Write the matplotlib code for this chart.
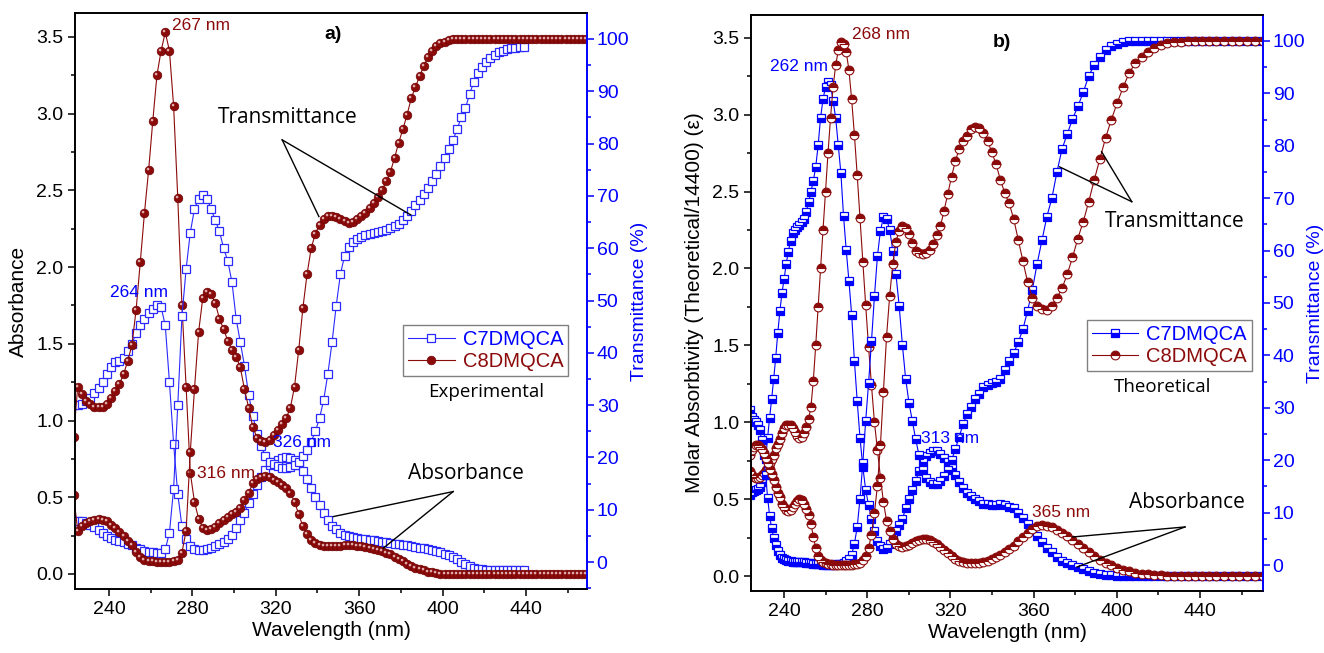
import numpy as np
import matplotlib.pyplot as plt
from matplotlib.path import Path
from matplotlib.ticker import MultipleLocator

plt.rcParams['font.family'] = ['Liberation Sans', 'DejaVu Sans']

# ---- experimental spectra (every 2 nm) ----
wl_exp = np.arange(223, 472, 2)

c8_exp_abs = [0.89, 1.22, 1.17, 1.13, 1.11, 1.09, 1.085, 1.09, 1.11, 1.15,
              1.19, 1.24, 1.30, 1.39, 1.49, 1.72, 2.03, 2.35, 2.63, 2.95,
              3.25, 3.41, 3.53, 3.41, 3.05, 2.45, 1.75, 1.22, 0.66, 0.47,
              0.36, 0.30, 0.285, 0.29, 0.305, 0.33, 0.35, 0.37, 0.39, 0.405,
              0.43, 0.48, 0.53, 0.59, 0.62, 0.635, 0.64, 0.632, 0.615, 0.60,
              0.58, 0.56, 0.53, 0.47, 0.39, 0.31, 0.26, 0.22, 0.20, 0.19,
              0.184, 0.18, 0.18, 0.181, 0.183, 0.186, 0.188, 0.187, 0.184, 0.18,
              0.176, 0.17, 0.163, 0.157, 0.148, 0.138, 0.127, 0.112, 0.096, 0.082,
              0.068, 0.052, 0.042, 0.032, 0.023, 0.015, 0.010, 0.006, 0.003, 0.002,
              0.001, 0, 0, 0, 0, 0, 0, 0, 0, 0,
              0, 0, 0, 0, 0, 0, 0, 0, 0, 0,
              0, 0, 0, 0, 0, 0, 0, 0, 0, 0,
              0, 0, 0, 0, 0]

c8_exp_trans = [12.9, 6.0, 6.8, 7.4, 7.8, 8.1, 8.2, 8.1, 7.8, 7.1,
                6.5, 5.8, 5.0, 4.1, 3.2, 1.9, 0.9, 0.45, 0.2, 0.1,
                0.05, 0, 0, 0, 0.1, 0.35, 1.8, 6.0, 21, 33,
                44, 50.5, 51.7, 51.2, 49.5, 46.5, 44.5, 42.3, 40.5, 39.2,
                37.2, 33, 29.5, 25.8, 23.8, 23.1, 22.9, 23.3, 24.3, 25.3,
                26.3, 27.5, 29.5, 33.5, 40.5, 48.5, 55, 60, 62.8, 64.5,
                65.5, 66.1, 66.1, 65.9, 65.6, 65.2, 64.9, 65.0, 65.5, 66.1,
                66.7, 67.6, 68.7, 69.7, 71.1, 72.8, 74.6, 77.3, 80.2, 82.8,
                85.5, 88.7, 90.8, 92.9, 94.8, 96.6, 97.7, 98.6, 99.3, 99.5,
                99.8, 100, 100, 100, 100, 100, 100, 100, 100, 100,
                100, 100, 100, 100, 100, 100, 100, 100, 100, 100,
                100, 100, 100, 100, 100, 100, 100, 100, 100, 100,
                100, 100, 100, 100, 100]

# C7 run ends at 439 nm
c7_exp_abs = [1.10, 1.10, 1.11, 1.13, 1.15, 1.18, 1.21, 1.25, 1.30, 1.35,
              1.38, 1.39, 1.41, 1.45, 1.50, 1.57, 1.62, 1.66, 1.70, 1.73,
              1.75, 1.74, 1.62, 1.25, 0.85, 0.52, 0.31, 0.23, 0.185, 0.165,
              0.157, 0.155, 0.16, 0.17, 0.18, 0.195, 0.21, 0.23, 0.255, 0.30,
              0.35, 0.40, 0.46, 0.52, 0.58, 0.63, 0.68, 0.71, 0.73, 0.745,
              0.755, 0.76, 0.755, 0.74, 0.71, 0.67, 0.62, 0.56, 0.50, 0.45,
              0.40, 0.35, 0.315, 0.29, 0.27, 0.255, 0.245, 0.238, 0.233, 0.23,
              0.227, 0.223, 0.22, 0.215, 0.21, 0.206, 0.202, 0.198, 0.195, 0.19,
              0.186, 0.182, 0.178, 0.172, 0.166, 0.16, 0.154, 0.147, 0.14, 0.132,
              0.122, 0.11, 0.095, 0.08, 0.065, 0.052, 0.042, 0.035, 0.03, 0.028,
              0.026, 0.025, 0.025, 0.025, 0.025, 0.025, 0.025, 0.025, 0.025]

c7_exp_trans = [7.9, 7.9, 7.8, 7.4, 7.1, 6.6, 6.2, 5.6, 5.0, 4.5,
                4.2, 4.1, 3.9, 3.5, 3.2, 2.7, 2.4, 2.2, 2.0, 1.9,
                1.8, 1.8, 2.4, 5.6, 14, 30, 47, 56, 63, 67.5,
                69.5, 70.2, 69.5, 67.5, 65.3, 63.2, 60, 57.5, 53.5, 46.5,
                42, 37.5, 32, 28, 24.5, 22.2, 20.2, 19.2, 18.7, 18.3,
                18.0, 17.9, 18.1, 18.5, 19.2, 20.2, 21.5, 23, 25, 27.5,
                31, 36, 42, 49, 55, 58.5, 60.2, 61.2, 61.8, 62.2,
                62.5, 62.7, 62.9, 63.1, 63.3, 63.5, 63.8, 64.2, 64.7, 65.3,
                66.1, 67.2, 68.3, 69.2, 70.3, 71.6, 72.8, 74.2, 75.8, 77.3,
                79, 80.6, 82.8, 85, 86.8, 89.5, 91.8, 93.5, 94.6, 95.6,
                96.3, 97, 97.5, 97.8, 98, 98.2, 98.3, 98.4, 98.5]

# ---- theoretical spectra (even energy grid, eV) ----
energy_th = 5.54 - 0.022 * np.arange(133)
wl_th = 1239.84 / energy_th

c7_th_abs = [0.53, 0.545, 0.555, 0.56, 0.565, 0.58, 0.61, 0.66, 0.76, 0.90,
             1.03, 1.15, 1.28, 1.42, 1.58, 1.72, 1.84, 1.93, 2.03, 2.11,
             2.18, 2.23, 2.25, 2.27, 2.28, 2.30, 2.32, 2.37, 2.43, 2.50,
             2.57, 2.66, 2.80, 2.98, 3.10, 3.18, 3.21, 3.19, 3.09, 2.98,
             2.80, 2.62, 2.34, 2.12, 1.92, 1.70, 1.40, 1.14, 0.90, 0.71,
             0.56, 0.46, 0.37, 0.29, 0.23, 0.195, 0.178, 0.18, 0.205, 0.25,
             0.29, 0.33, 0.37, 0.44, 0.50, 0.56, 0.62, 0.68, 0.74, 0.78,
             0.80, 0.81, 0.81, 0.795, 0.77, 0.74, 0.70, 0.655, 0.61, 0.57,
             0.54, 0.52, 0.50, 0.485, 0.47, 0.465, 0.46, 0.46, 0.465, 0.46,
             0.45, 0.44, 0.41, 0.38, 0.34, 0.30, 0.26, 0.22, 0.18, 0.155,
             0.125, 0.10, 0.085, 0.07, 0.058, 0.045, 0.03, 0.02, 0.013, 0.008,
             0.004, 0.002, 0, 0, 0, 0, 0, 0, 0, 0,
             0, 0, 0, 0, 0, 0, 0, 0, 0, 0,
             0, 0, 0]

c7_th_trans = [29.5, 28.3, 27.6, 27.2, 26.8, 25.7, 23.8, 21.0, 17.2, 12.8,
               9.4, 7.0, 5.2, 3.8, 2.6, 1.9, 1.4, 1.2, 0.9, 0.8,
               0.7, 0.6, 0.56, 0.54, 0.52, 0.5, 0.48, 0.43, 0.37, 0.32,
               0.27, 0.22, 0.16, 0.1, 0.08, 0.07, 0.06, 0.06, 0.08, 0.1,
               0.16, 0.24, 0.46, 0.76, 1.2, 2.0, 4.0, 7.2, 12.6, 19.5,
               27.5, 34.7, 42.7, 51.3, 58.9, 63.8, 66.4, 66.1, 64.0, 60.0,
               55.5, 49.5, 42.0, 35.5, 31.0, 27.5, 24.0, 20.9, 18.2, 16.6,
               15.8, 15.5, 15.5, 16.0, 17.0, 18.2, 20.0, 22.1, 24.5, 26.9,
               28.8, 30.2, 31.6, 32.7, 33.9, 34.3, 34.7, 34.9, 35.5, 37.2,
               39.0, 40.5, 42.5, 45.0, 48.5, 52.5, 57.5, 62.0, 66.5, 70.0,
               75.0, 79.4, 82.2, 85.1, 87.5, 90.2, 93.3, 95.5, 97.0, 98.2,
               99.1, 99.5, 99.8, 100, 100, 100, 100, 100, 100, 100,
               100, 100, 100, 100, 100, 100, 100, 100, 100, 100,
               100, 100, 100]

c8_th_abs = [0.68, 0.66, 0.645, 0.64, 0.64, 0.645, 0.655, 0.67, 0.69, 0.71,
             0.735, 0.76, 0.79, 0.83, 0.86, 0.89, 0.93, 0.96, 0.98, 0.985,
             0.98, 0.96, 0.935, 0.91, 0.90, 0.905, 0.93, 0.97, 1.02, 1.10,
             1.27, 1.50, 1.75, 2.00, 2.25, 2.50, 2.75, 2.98, 3.18, 3.32,
             3.42, 3.47, 3.46, 3.41, 3.29, 3.10, 2.87, 2.61, 2.33, 2.04,
             1.76, 1.49, 1.24, 1.00, 0.82, 0.64, 0.48, 0.36, 0.29, 0.24,
             0.21, 0.195, 0.19, 0.192, 0.20, 0.215, 0.228, 0.236, 0.24, 0.238,
             0.232, 0.222, 0.208, 0.19, 0.17, 0.15, 0.13, 0.113, 0.10, 0.092,
             0.087, 0.085, 0.085, 0.087, 0.092, 0.10, 0.11, 0.122, 0.138, 0.155,
             0.175, 0.198, 0.225, 0.252, 0.28, 0.305, 0.322, 0.33, 0.328, 0.318,
             0.30, 0.28, 0.258, 0.232, 0.205, 0.18, 0.155, 0.13, 0.107, 0.087,
             0.07, 0.055, 0.042, 0.031, 0.022, 0.015, 0.01, 0.007, 0.004, 0.002,
             0.001, 0, 0, 0, 0, 0, 0, 0, 0, 0,
             0, 0, 0]

c8_th_trans = [21.0, 21.9, 22.6, 22.9, 22.9, 22.6, 22.1, 21.4, 20.4, 19.5,
               18.4, 17.4, 16.2, 14.8, 13.8, 12.9, 11.7, 11.0, 10.5, 10.4,
               10.5, 11.0, 11.6, 12.3, 12.6, 12.4, 11.7, 10.7, 9.5, 7.9,
               5.4, 3.2, 1.8, 1.0, 0.56, 0.32, 0.18, 0.1, 0.07, 0.05,
               0.04, 0.03, 0.03, 0.04, 0.05, 0.08, 0.13, 0.25, 0.47, 0.9,
               1.7, 3.2, 5.8, 10.0, 15.1, 22.9, 33.1, 43.6, 51.3, 57.5,
               61.7, 63.8, 64.6, 64.3, 63.1, 61.5, 60.0, 59.6, 59.4, 59.5,
               60.2, 61.3, 63.0, 64.6, 67.6, 70.8, 74.1, 77.1, 79.4, 80.9,
               81.8, 83.2, 83.6, 83.4, 82.5, 81.0, 78.8, 76.5, 73.5, 71.0,
               69.0, 66.0, 62.0, 58.0, 54.0, 51.0, 49.5, 48.8, 48.7, 49.5,
               51.0, 52.8, 55.5, 58.7, 62.3, 65.5, 69.3, 73.5, 77.5, 81.5,
               85.0, 88.2, 91.2, 93.9, 95.8, 97.0, 97.9, 98.7, 99.2, 99.6,
               99.8, 99.9, 100, 100, 100, 100, 100, 100, 100, 100,
               100, 100, 100]

series_names = ['C7DMQCA', 'C8DMQCA']

BLUE = '#0000ff'
RED = '#8b0a0a'
ANNOT_FONT = 'Open Sans'

# small light disc offset up-left, used as a highlight on the "sphere" markers
_c = Path.circle((-0.33, 0.33), 0.3)
shine = Path(np.vstack([_c.vertices, [[-1, -1], [1, 1]]]),
             np.concatenate([_c.codes, [Path.MOVETO, Path.MOVETO]]))

fig = plt.figure(figsize=(13.24, 6.53), dpi=100)
axA = fig.add_axes([75 / 1324, 1 - 589 / 653, 512 / 1324, 576 / 653])
axB = fig.add_axes([751 / 1324, 1 - 591 / 653, 512 / 1324, 576 / 653])


def frame(ax, xlim, ylim, ylim2, ylabel):
    ax2 = ax.twinx()
    ax.set_xlim(*xlim)
    ax.set_ylim(*ylim)
    ax2.set_ylim(*ylim2)
    ax.xaxis.set_major_locator(MultipleLocator(40))
    ax.xaxis.set_minor_locator(MultipleLocator(20))
    ax.yaxis.set_major_locator(MultipleLocator(0.5))
    ax.yaxis.set_minor_locator(MultipleLocator(0.25))
    ax2.yaxis.set_major_locator(MultipleLocator(10))
    ax2.yaxis.set_minor_locator(MultipleLocator(5))
    ax.yaxis.set_major_formatter(plt.FormatStrFormatter('%.1f'))
    for a in (ax, ax2):
        a.tick_params(which='major', direction='out', length=5, width=1.1, labelsize=14)
        a.tick_params(which='minor', direction='out', length=3, width=1.1)
        for s in a.spines.values():
            s.set_linewidth(1.2)
    ax.tick_params(axis='x', pad=4)
    ax.spines['right'].set_visible(False)
    ax2.spines['right'].set_color(BLUE)
    ax2.spines['right'].set_linewidth(1.4)
    ax2.tick_params(axis='y', which='both', colors=BLUE, pad=2)
    ax.set_xlabel('Wavelength (nm)', fontsize=15, labelpad=2)
    ax.set_ylabel(ylabel, fontsize=15, labelpad=6)
    ax2.set_ylabel('Transmittance (%)', fontsize=14, color=BLUE)
    ax2.yaxis.set_label_coords(1.086, 0.5)
    return ax2


axA2 = frame(axA, (223.7, 469.3), (-0.098, 3.656), (-5.16, 104.97), 'Absorbance')
axB2 = frame(axB, (224.1, 470.3), (-0.0975, 3.648), (-4.96, 104.96),
             'Molar Absorbtivity (Theoretical/14400) (\u03b5)')

# ---- panel a: experimental ----
n7 = len(c7_exp_abs)
sq = dict(marker='s', ms=6.0, mfc='white', mec='#2a2aff', mew=0.9, lw=0.8, color='#2a2aff')
sph = dict(marker='o', ms=6.3, mfc=RED, mec='#6a0000', mew=0.4, lw=0.8, color=RED)
hA7, = axA.plot(wl_exp[:n7], c7_exp_abs, **sq)
hA8, = axA.plot(wl_exp, c8_exp_abs, **sph)
axA.plot(wl_exp, c8_exp_abs, ls='none', marker=shine, ms=6.3, mfc='#f0c8c8', mec='none', alpha=0.85)
axA2.plot(wl_exp[:n7], c7_exp_trans, **sq)
axA2.plot(wl_exp, c8_exp_trans, **sph)
axA2.plot(wl_exp, c8_exp_trans, ls='none', marker=shine, ms=6.3, mfc='#f0c8c8', mec='none', alpha=0.85)

# ---- panel b: theoretical ----
hsq = dict(marker='s', ms=5.6, fillstyle='bottom', mfc=BLUE, mfcalt='white', mec=BLUE,
           mew=0.9, lw=0.8, color=BLUE)
hci = dict(marker='o', ms=6.3, fillstyle='top', mfc=RED, mfcalt='white', mec=RED,
           mew=0.8, lw=0.8, color=RED)
hB7, = axB.plot(wl_th, c7_th_abs, **hsq)
hB8, = axB.plot(wl_th, c8_th_abs, **hci)
axB2.plot(wl_th, c7_th_trans, **hsq)
axB2.plot(wl_th, c8_th_trans, **hci)

# ---- legends ----
for ax2, hs, anchor in ((axA2, (hA7, hA8), (0.641, 0.458)), (axB2, (hB7, hB8), (0.656, 0.470))):
    leg = ax2.legend(hs, series_names, loc='upper left', bbox_to_anchor=anchor,
                     borderaxespad=0, fancybox=False, edgecolor='#808080', framealpha=1,
                     fontsize=14.5, handlelength=2.3, handletextpad=0.4, borderpad=0.25,
                     labelspacing=0.15, numpoints=1)
    leg.get_frame().set_linewidth(1.0)
    for t, c in zip(leg.get_texts(), (BLUE, RED)):
        t.set_color(c)


# ---- annotations (drawn on the twin axes so they sit on top) ----
def note(ax, ax2, x, y, s, **kw):
    ax2.text(x, y, s, transform=ax.transData, **kw)


def leader(ax, ax2, apex, ends):
    for e in ends:
        ax2.plot([apex[0], e[0]], [apex[1], e[1]], color='black', lw=1.0,
                 transform=ax.transData)


note(axA, axA2, 270.2, 3.572, '267 nm', color=RED, fontsize=12.5, ha='left', va='center')
note(axA, axA2, 254.6, 1.832, '264 nm', color=BLUE, fontsize=12.5, ha='center', va='center')
note(axA, axA2, 296.4, 0.658, '316 nm', color=RED, fontsize=12.5, ha='center', va='center')
note(axA, axA2, 332.8, 0.854, '326 nm', color=BLUE, fontsize=12.5, ha='center', va='center')
note(axA, axA2, 347.4, 3.514, 'a)', fontsize=14, fontweight='bold', ha='center', va='center')
note(axA, axA2, 325.6, 2.973, 'Transmittance', family=ANNOT_FONT, fontsize=15, ha='center', va='center')
leader(axA, axA2, (323.1, 2.829), [(340.7, 2.329), (384.8, 2.34)])
note(axA, axA2, 411.2, 0.652, 'Absorbance', family=ANNOT_FONT, fontsize=15, ha='center', va='center')
leader(axA, axA2, (405.1, 0.537), [(347.6, 0.374), (371.6, 0.168)])
note(axA, axA2, 420.8, 1.186, 'Experimental', family=ANNOT_FONT, fontsize=13.5, ha='center', va='center')

note(axB, axB2, 272.7, 3.524, '268 nm', color=RED, fontsize=12.5, ha='left', va='center')
note(axB, axB2, 247.0, 3.310, '262 nm', color=BLUE, fontsize=12.5, ha='center', va='center')
note(axB, axB2, 319.8, 0.891, '313 nm', color=BLUE, fontsize=12.5, ha='center', va='center')
note(axB, axB2, 373.4, 0.416, '365 nm', color=RED, fontsize=12.5, ha='center', va='center')
note(axB, axB2, 344.8, 3.466, 'b)', fontsize=14, fontweight='bold', ha='center', va='center')
note(axB, axB2, 428.0, 2.302, 'Transmittance', family=ANNOT_FONT, fontsize=15, ha='center', va='center')
leader(axB, axB2, (407.2, 2.434), [(372.4, 2.661), (392.7, 2.759)])
note(axB, axB2, 433.8, 0.475, 'Absorbance', family=ANNOT_FONT, fontsize=15, ha='center', va='center')
leader(axB, axB2, (432.8, 0.319), [(378.9, 0.254), (380.9, 0.059)])
note(axB, axB2, 422.2, 1.229, 'Theoretical', family=ANNOT_FONT, fontsize=13.5, ha='center', va='center')

fig.savefig('out.png', dpi=100)
